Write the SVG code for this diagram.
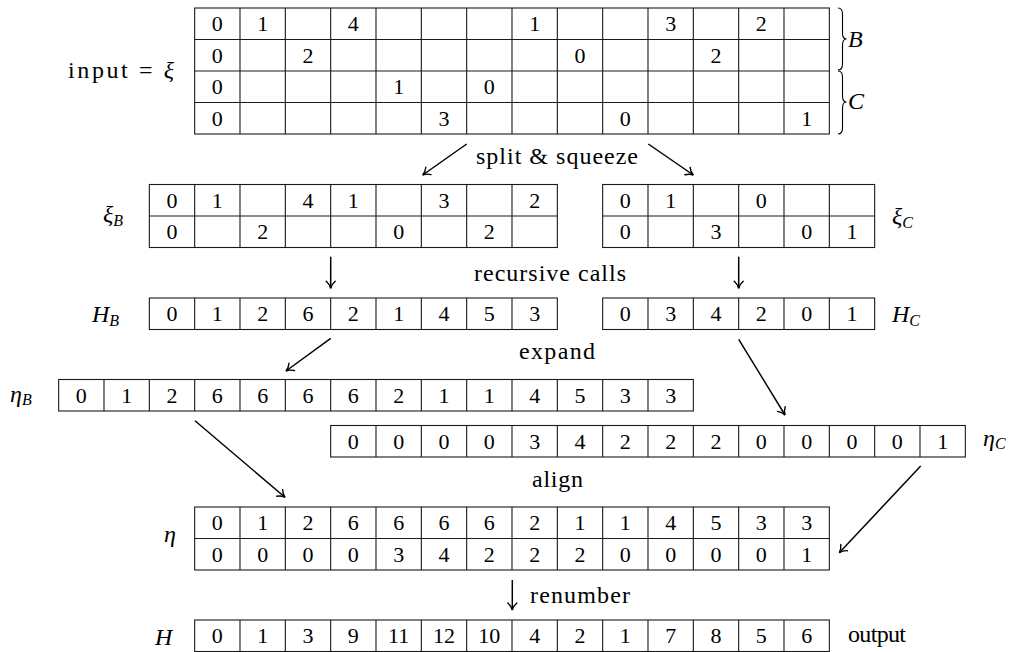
<svg xmlns="http://www.w3.org/2000/svg" width="1013" height="652" viewBox="0 0 1013 652">
<style>
.g{fill:none;stroke:#1a1a1a;stroke-width:1.1}
.d{font-size:22px;text-anchor:middle;fill:#000}
.t{font-size:24px;fill:#000}
.m{font-size:24px;font-style:italic;fill:#000}
.s{font-size:16px}
.a{fill:none;stroke:#000;stroke-width:1.5}
</style>
<defs>
<marker id="ah" markerUnits="userSpaceOnUse" viewBox="-9 -6 11 12" refX="0" refY="0" markerWidth="11" markerHeight="12" orient="auto">
<path d="M-7,-4.5 C-5,-2.2 -2.5,-0.6 0,0 C-2.5,0.6 -5,2.2 -7,4.5" fill="none" stroke="#000" stroke-width="1.4" stroke-linecap="round"/>
</marker>
</defs>
<g font-family="Liberation Serif, serif">
<g id="input">
<text class="t" x="68" y="78" textLength="106" lengthAdjust="spacing">input = <tspan font-style="italic">ξ</tspan></text>
<rect class="g" x="194.67" y="8" width="634.67" height="126"/>
<path class="g" d="M240,8V134M285.33,8V134M330.67,8V134M376,8V134M421.33,8V134M466.67,8V134M512,8V134M557.33,8V134M602.67,8V134M648,8V134M693.33,8V134M738.67,8V134M784,8V134M194.67,39.5H829.33M194.67,71H829.33M194.67,102.5H829.33"/>
<g class="d">
<text x="217.33" y="31.25">0</text><text x="262.67" y="31.25">1</text><text x="353.33" y="31.25">4</text><text x="534.67" y="31.25">1</text><text x="670.67" y="31.25">3</text><text x="761.33" y="31.25">2</text>
<text x="217.33" y="62.75">0</text><text x="308" y="62.75">2</text><text x="580" y="62.75">0</text><text x="716" y="62.75">2</text>
<text x="217.33" y="94.25">0</text><text x="398.67" y="94.25">1</text><text x="489.33" y="94.25">0</text>
<text x="217.33" y="125.75">0</text><text x="444" y="125.75">3</text><text x="625.33" y="125.75">0</text><text x="806.67" y="125.75">1</text>
</g>
<path class="a" style="stroke-width:1.1" d="M838,8 Q842.5,8 842.5,14 L842.5,33 Q842.5,39 846.5,39 Q842.5,39 842.5,45 L842.5,64 Q842.5,70 838,70"/>
<path class="a" style="stroke-width:1.1" d="M838,71 Q842.5,71 842.5,77 L842.5,96 Q842.5,102 846.5,102 Q842.5,102 842.5,108 L842.5,128 Q842.5,134 838,134"/>
<text class="m" x="848" y="47">B</text>
<text class="m" x="848" y="109">C</text>
</g>

<g id="xiB">
<text class="m" x="103" y="222">ξ<tspan class="s" dy="4">B</tspan></text>
<rect class="g" x="149.33" y="184.5" width="408" height="63"/>
<path class="g" d="M194.67,184.5V247.5M240,184.5V247.5M285.33,184.5V247.5M330.67,184.5V247.5M376,184.5V247.5M421.33,184.5V247.5M466.67,184.5V247.5M512,184.5V247.5M149.33,216H557.33"/>
<g class="d">
<text x="172" y="207.75">0</text><text x="217.33" y="207.75">1</text><text x="308" y="207.75">4</text><text x="353.33" y="207.75">1</text><text x="444" y="207.75">3</text><text x="534.67" y="207.75">2</text>
<text x="172" y="239.25">0</text><text x="262.67" y="239.25">2</text><text x="398.67" y="239.25">0</text><text x="489.33" y="239.25">2</text>
</g>
</g>

<g id="xiC">
<text class="m" x="892" y="224">ξ<tspan class="s" dy="4">C</tspan></text>
<rect class="g" x="602.67" y="184.5" width="272" height="63"/>
<path class="g" d="M648,184.5V247.5M693.33,184.5V247.5M738.67,184.5V247.5M784,184.5V247.5M829.33,184.5V247.5M602.67,216H874.67"/>
<g class="d">
<text x="625.33" y="207.75">0</text><text x="670.67" y="207.75">1</text><text x="761.33" y="207.75">0</text>
<text x="625.33" y="239.25">0</text><text x="716" y="239.25">3</text><text x="806.67" y="239.25">0</text><text x="852" y="239.25">1</text>
</g>
</g>

<g id="HB">
<text class="m" x="92" y="322">H<tspan class="s" dy="4">B</tspan></text>
<rect class="g" x="149.33" y="298" width="408" height="31.5"/>
<path class="g" d="M194.67,298V329.5M240,298V329.5M285.33,298V329.5M330.67,298V329.5M376,298V329.5M421.33,298V329.5M466.67,298V329.5M512,298V329.5"/>
<g class="d">
<text x="172" y="321.25">0</text><text x="217.33" y="321.25">1</text><text x="262.67" y="321.25">2</text><text x="308" y="321.25">6</text><text x="353.33" y="321.25">2</text><text x="398.67" y="321.25">1</text><text x="444" y="321.25">4</text><text x="489.33" y="321.25">5</text><text x="534.67" y="321.25">3</text>
</g>
</g>

<g id="HC">
<text class="m" x="892" y="322">H<tspan class="s" dy="4">C</tspan></text>
<rect class="g" x="602.67" y="298" width="272" height="31.5"/>
<path class="g" d="M648,298V329.5M693.33,298V329.5M738.67,298V329.5M784,298V329.5M829.33,298V329.5"/>
<g class="d">
<text x="625.33" y="321.25">0</text><text x="670.67" y="321.25">3</text><text x="716" y="321.25">4</text><text x="761.33" y="321.25">2</text><text x="806.67" y="321.25">0</text><text x="852" y="321.25">1</text>
</g>
</g>

<g id="etaB">
<text class="m" x="10" y="402">η<tspan class="s" dy="3">B</tspan></text>
<rect class="g" x="58.67" y="379.5" width="634.67" height="31.5"/>
<path class="g" d="M104,379.5V411M149.33,379.5V411M194.67,379.5V411M240,379.5V411M285.33,379.5V411M330.67,379.5V411M376,379.5V411M421.33,379.5V411M466.67,379.5V411M512,379.5V411M557.33,379.5V411M602.67,379.5V411M648,379.5V411"/>
<g class="d">
<text x="81.33" y="402.75">0</text><text x="126.67" y="402.75">1</text><text x="172" y="402.75">2</text><text x="217.33" y="402.75">6</text><text x="262.67" y="402.75">6</text><text x="308" y="402.75">6</text><text x="353.33" y="402.75">6</text><text x="398.67" y="402.75">2</text><text x="444" y="402.75">1</text><text x="489.33" y="402.75">1</text><text x="534.67" y="402.75">4</text><text x="580" y="402.75">5</text><text x="625.33" y="402.75">3</text><text x="670.67" y="402.75">3</text>
</g>
</g>

<g id="etaC">
<text class="m" x="983" y="446">η<tspan class="s" dy="3">C</tspan></text>
<rect class="g" x="330.67" y="425.5" width="634.67" height="31.5"/>
<path class="g" d="M376,425.5V457M421.33,425.5V457M466.67,425.5V457M512,425.5V457M557.33,425.5V457M602.67,425.5V457M648,425.5V457M693.33,425.5V457M738.67,425.5V457M784,425.5V457M829.33,425.5V457M874.67,425.5V457M920,425.5V457"/>
<g class="d">
<text x="353.33" y="448.75">0</text><text x="398.67" y="448.75">0</text><text x="444" y="448.75">0</text><text x="489.33" y="448.75">0</text><text x="534.67" y="448.75">3</text><text x="580" y="448.75">4</text><text x="625.33" y="448.75">2</text><text x="670.67" y="448.75">2</text><text x="716" y="448.75">2</text><text x="761.33" y="448.75">0</text><text x="806.67" y="448.75">0</text><text x="852" y="448.75">0</text><text x="897.33" y="448.75">0</text><text x="942.67" y="448.75">1</text>
</g>
</g>

<g id="eta">
<text class="m" x="164" y="542">η</text>
<rect class="g" x="194.67" y="507" width="634.67" height="63"/>
<path class="g" d="M240,507V570M285.33,507V570M330.67,507V570M376,507V570M421.33,507V570M466.67,507V570M512,507V570M557.33,507V570M602.67,507V570M648,507V570M693.33,507V570M738.67,507V570M784,507V570M194.67,538.5H829.33"/>
<g class="d">
<text x="217.33" y="530.25">0</text><text x="262.67" y="530.25">1</text><text x="308" y="530.25">2</text><text x="353.33" y="530.25">6</text><text x="398.67" y="530.25">6</text><text x="444" y="530.25">6</text><text x="489.33" y="530.25">6</text><text x="534.67" y="530.25">2</text><text x="580" y="530.25">1</text><text x="625.33" y="530.25">1</text><text x="670.67" y="530.25">4</text><text x="716" y="530.25">5</text><text x="761.33" y="530.25">3</text><text x="806.67" y="530.25">3</text>
<text x="217.33" y="561.75">0</text><text x="262.67" y="561.75">0</text><text x="308" y="561.75">0</text><text x="353.33" y="561.75">0</text><text x="398.67" y="561.75">3</text><text x="444" y="561.75">4</text><text x="489.33" y="561.75">2</text><text x="534.67" y="561.75">2</text><text x="580" y="561.75">2</text><text x="625.33" y="561.75">0</text><text x="670.67" y="561.75">0</text><text x="716" y="561.75">0</text><text x="761.33" y="561.75">0</text><text x="806.67" y="561.75">1</text>
</g>
</g>

<g id="H">
<text class="m" x="155" y="645">H</text>
<rect class="g" x="194.67" y="620" width="634.67" height="31.5"/>
<path class="g" d="M240,620V651.5M285.33,620V651.5M330.67,620V651.5M376,620V651.5M421.33,620V651.5M466.67,620V651.5M512,620V651.5M557.33,620V651.5M602.67,620V651.5M648,620V651.5M693.33,620V651.5M738.67,620V651.5M784,620V651.5"/>
<g class="d">
<text x="217.33" y="643.25">0</text><text x="262.67" y="643.25">1</text><text x="308" y="643.25">3</text><text x="353.33" y="643.25">9</text><text x="398.67" y="643.25">11</text><text x="444" y="643.25">12</text><text x="489.33" y="643.25">10</text><text x="534.67" y="643.25">4</text><text x="580" y="643.25">2</text><text x="625.33" y="643.25">1</text><text x="670.67" y="643.25">7</text><text x="716" y="643.25">8</text><text x="761.33" y="643.25">5</text><text x="806.67" y="643.25">6</text>
</g>
<text class="t" x="848" y="642" textLength="58" lengthAdjust="spacing">output</text>
</g>

<g id="connectors">
<path class="a" marker-end="url(#ah)" d="M466.7,144 L422.7,175"/>
<path class="a" marker-end="url(#ah)" d="M648.3,144 L693.3,175"/>
<path class="a" marker-end="url(#ah)" d="M330.7,256.7 L330.7,288.3"/>
<path class="a" marker-end="url(#ah)" d="M738.7,256.7 L738.7,288.3"/>
<path class="a" marker-end="url(#ah)" d="M330.7,338.3 L286,371"/>
<path class="a" marker-end="url(#ah)" d="M738.7,339.3 L785,415"/>
<path class="a" marker-end="url(#ah)" d="M195,420.7 L285,497.3"/>
<path class="a" marker-end="url(#ah)" d="M920.7,466 L839.3,552.7"/>
<path class="a" marker-end="url(#ah)" d="M512.3,580 L512.3,610"/>
<text class="t" x="476" y="164" textLength="162" lengthAdjust="spacing">split &amp; squeeze</text>
<text class="t" x="474" y="281" textLength="152" lengthAdjust="spacing">recursive calls</text>
<text class="t" x="519" y="359" textLength="76" lengthAdjust="spacing">expand</text>
<text class="t" x="532" y="487" textLength="51" lengthAdjust="spacing">align</text>
<text class="t" x="530" y="603" textLength="100" lengthAdjust="spacing">renumber</text>
</g>
</g>
</svg>
